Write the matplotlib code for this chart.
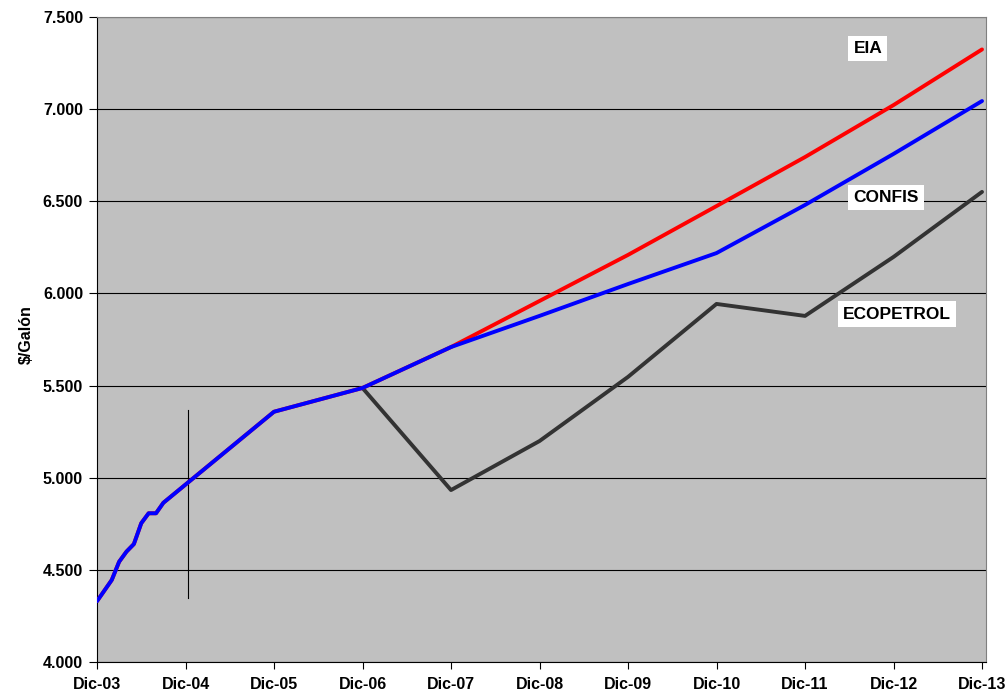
import matplotlib
matplotlib.use("Agg")
import matplotlib.pyplot as plt
from matplotlib.ticker import FuncFormatter, MultipleLocator

plt.rcParams['font.family'] = ['Liberation Sans', 'DejaVu Sans']

# x in years after Dic-03
x_labels = ["Dic-03", "Dic-04", "Dic-05", "Dic-06", "Dic-07", "Dic-08",
            "Dic-09", "Dic-10", "Dic-11", "Dic-12", "Dic-13"]

hist_x = [0.0, 2/12, 3/12, 4/12, 5/12, 6/12, 7/12, 8/12, 9/12, 2.0, 3.0]
hist_y = [4.33, 4.445, 4.544, 4.599, 4.640, 4.753, 4.807, 4.807, 4.864, 5.358, 5.487]

eco_x = [3, 4, 5, 6, 7, 8, 9, 10]
eco_y = [5.487, 4.933, 5.199, 5.547, 5.943, 5.878, 6.198, 6.551]

fut_x = [4, 5, 6, 7, 8, 9, 10]
eia_y = [5.709, 5.959, 6.209, 6.474, 6.740, 7.022, 7.324]
confis_y = [5.709, 5.878, 6.051, 6.219, 6.480, 6.757, 7.044]

marker_x = [1.03, 1.03]
marker_y = [4.347, 5.367]

fig = plt.figure(figsize=(10.06, 6.93), dpi=100)
ax = fig.add_axes([97/1006, (693-662)/693, (986-97)/1006, (662-17)/693])
ax.set_facecolor('#C0C0C0')

lw = 2.8
ax.plot(eco_x, eco_y, color='#333333', lw=lw, solid_capstyle='round', zorder=3)
ax.plot(hist_x + fut_x, hist_y + eia_y, color='#FF0000', lw=lw, solid_capstyle='round', zorder=4)
ax.plot(hist_x + fut_x, hist_y + confis_y, color='#0000FF', lw=lw, solid_capstyle='round', zorder=5)
ax.plot(marker_x, marker_y, color='black', lw=0.8, zorder=2)

ax.set_xlim(0, 10.045)
ax.set_ylim(4.0, 7.5)
ax.set_xticks(range(len(x_labels)))
ax.set_xticklabels(x_labels)
ax.yaxis.set_major_locator(MultipleLocator(0.5))
ax.yaxis.set_major_formatter(FuncFormatter(lambda v, p: f"{v:.3f}"))
ax.tick_params(axis='both', labelsize=11.5, width=0.8, direction='out', color='black')
ax.tick_params(axis='x', length=5, pad=6)
ax.tick_params(axis='y', length=6, pad=4)
for lab in ax.get_yticklabels() + ax.get_xticklabels():
    lab.set_fontweight('bold')

ax.grid(axis='y', color='black', lw=0.8, zorder=1)
ax.set_axisbelow(True)
ax.spines['left'].set_color('black')
ax.spines['bottom'].set_color('black')
ax.spines['top'].set_color('#808080')
ax.spines['right'].set_color('#808080')

fig.text(26/1006, 1 - 335/693, "$/Galón", fontsize=11.5, fontweight='bold',
         rotation=90, ha='center', va='center')

box = dict(boxstyle='square,pad=0.3', facecolor='white', edgecolor='none')
ax.text(8.71, 7.329, "EIA", fontsize=12.5, fontweight='bold', ha='center', va='center', bbox=box, zorder=6)
ax.text(8.915, 6.521, "CONFIS", fontsize=12.5, fontweight='bold', ha='center', va='center', bbox=box, zorder=6)
ax.text(9.04, 5.888, "ECOPETROL", fontsize=12.5, fontweight='bold', ha='center', va='center', bbox=box, zorder=6)

fig.savefig("out.png", dpi=100)
